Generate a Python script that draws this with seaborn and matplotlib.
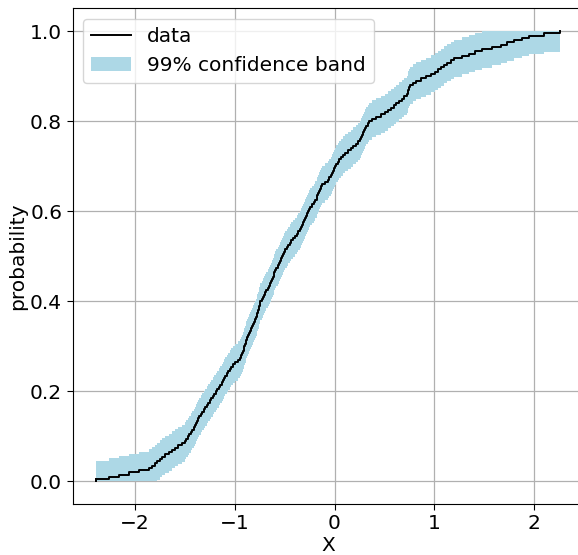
import numpy as np
import matplotlib
matplotlib.use("Agg")
import matplotlib.pyplot as plt
import seaborn as sns
from matplotlib.patches import Patch
from matplotlib.lines import Line2D

samples = [
    -2.39, -2.26, -2.16, -2.06, -1.96, -1.86, -1.83, -1.80, -1.78, -1.75,
    -1.73, -1.70, -1.66, -1.63, -1.60, -1.57, -1.53, -1.50, -1.485, -1.47,
    -1.455, -1.44, -1.425, -1.41, -1.40, -1.39, -1.38, -1.37, -1.355, -1.34,
    -1.325, -1.31, -1.295, -1.28, -1.265, -1.25, -1.235, -1.22, -1.205, -1.19,
    -1.175, -1.16, -1.145, -1.13, -1.12, -1.11, -1.095, -1.08, -1.065, -1.05,
    -1.035, -1.02, -0.995, -0.97, -0.95, -0.935, -0.927, -0.92, -0.912, -0.905,
    -0.897, -0.89, -0.885, -0.88, -0.87, -0.86, -0.85, -0.84, -0.828, -0.815,
    -0.805, -0.795, -0.787, -0.78, -0.775, -0.77, -0.762, -0.755, -0.75, -0.745,
    -0.732, -0.72, -0.707, -0.695, -0.682, -0.67, -0.657, -0.645, -0.637, -0.63,
    -0.62, -0.61, -0.602, -0.595, -0.582, -0.57, -0.56, -0.55, -0.54, -0.53,
    -0.517, -0.505, -0.492, -0.48, -0.465, -0.45, -0.435, -0.42, -0.40, -0.38,
    -0.364, -0.348, -0.339, -0.33, -0.32, -0.31, -0.30, -0.29, -0.28, -0.27,
    -0.257, -0.245, -0.227, -0.21, -0.195, -0.18, -0.172, -0.165, -0.157, -0.15,
    -0.14, -0.13, -0.10, -0.07, -0.055, -0.04, -0.03, -0.02, -0.01, 0.0,
    0.015, 0.03, 0.045, 0.06, 0.08, 0.10, 0.133, 0.166, 0.188, 0.21,
    0.235, 0.26, 0.27, 0.28, 0.29, 0.30, 0.31, 0.32, 0.333, 0.345,
    0.38, 0.42, 0.465, 0.51, 0.54, 0.57, 0.595, 0.62, 0.65, 0.68,
    0.70, 0.725, 0.733, 0.74, 0.748, 0.755, 0.79, 0.82, 0.87, 0.92,
    0.965, 1.01, 1.04, 1.07, 1.10, 1.13, 1.165, 1.20, 1.28, 1.35,
    1.41, 1.48, 1.58, 1.67, 1.73, 1.80, 1.88, 1.95, 2.10, 2.26,
]
band_halfwidth = 0.041  # half-width of the 99% confidence band
line_label = "data"
band_label = "99% confidence band"
x_label = "X"
y_label = "probability"

FS = 14.5
fig = plt.figure(figsize=(5.78, 5.55), dpi=100)
ax = fig.add_axes([0.1256, 0.0919, 0.8831, 0.8928])

xs = np.sort(np.asarray(samples, dtype=float))
n = len(xs)
ecdf_x = np.concatenate([[xs[0]], xs])
ecdf_y = np.concatenate([[0.0], np.arange(1, n + 1) / n])
lower = np.clip(ecdf_y - band_halfwidth, 0, 1)
upper = np.clip(ecdf_y + band_halfwidth, 0, 1)
ax.fill_between(ecdf_x, lower, upper, step="post", color="lightblue",
                linewidth=0, zorder=1)

sns.ecdfplot(x=xs, ax=ax, color="black", linewidth=1.4, zorder=3)
ax.plot([xs[0], xs[0]], [0, 1 / n], color="black", lw=1.4, zorder=3)

ax.set_xlim(-2.625, 2.49)
ax.set_ylim(-0.05, 1.05)
ax.set_xticks([-2, -1, 0, 1, 2])
ax.set_yticks([0.0, 0.2, 0.4, 0.6, 0.8, 1.0])
ax.grid(True, color="#b0b0b0", linewidth=0.9)
ax.set_axisbelow(True)
ax.tick_params(labelsize=FS, length=4)
ax.set_xlabel(x_label, fontsize=FS, labelpad=2)
ax.set_ylabel(y_label, fontsize=FS, labelpad=2)

handles = [Line2D([0], [0], color="black", lw=1.4),
           Patch(facecolor="lightblue", edgecolor="none")]
ax.legend(handles, [line_label, band_label], loc="upper left", fontsize=FS,
          framealpha=0.8)

fig.savefig("out.png", dpi=100)
